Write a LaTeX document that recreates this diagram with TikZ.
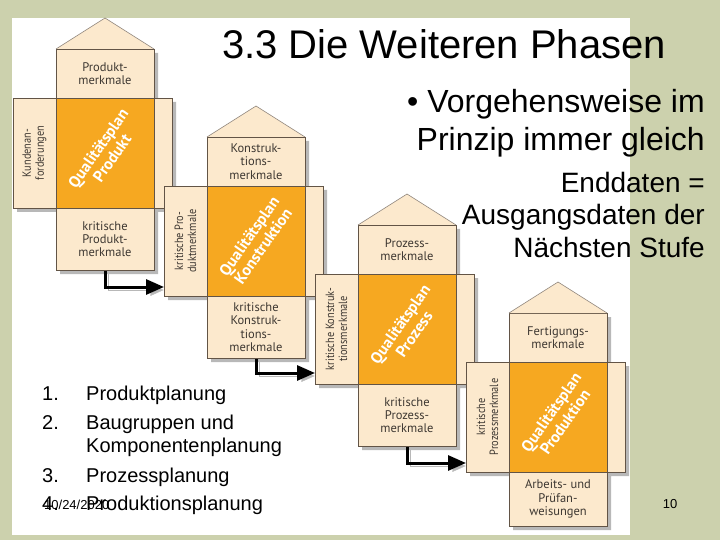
\documentclass[tikz,border=0pt]{standalone}
\usepackage{fontspec}
\setmainfont{Liberation Sans}
\newfontfamily\boxfont{PT Sans}
\newfontfamily\schmalfont[FakeStretch=0.86]{PT Sans}
\usetikzlibrary{positioning,backgrounds,arrows.meta}

\definecolor{folie}{RGB}{204,209,173}
\definecolor{hell}{RGB}{252,233,205}
\definecolor{planfarbe}{RGB}{246,168,33}
\definecolor{kante}{RGB}{98,84,70}
\definecolor{schrift}{RGB}{62,56,50}

\tikzset{
  feld/.style={draw=kante, line width=0.8pt, fill=hell, inner sep=0pt, outer sep=0pt,
    align=center, text=schrift, font=\boxfont\fontsize{12.5}{13.3}\selectfont},
  kopf/.style={feld, minimum width=98pt, minimum height=49pt},
  fuss/.style={feld, minimum width=98pt, minimum height=62pt},
  kern/.style={feld, fill=planfarbe, minimum width=98pt, minimum height=110pt},
  fluegel/.style={feld, rotate=90, anchor=south, minimum width=110pt, minimum height=43pt,
    font=\schmalfont\fontsize{12}{13}\selectfont},
  seite/.style={feld, minimum width=18pt, minimum height=110pt},
  plantext/.style={rotate=55, align=center, text=white, inner sep=0pt,
    font=\boxfont\bfseries\fontsize{16}{17}\selectfont},
  dach/.style={draw=kante!70, line width=0.6pt, fill=hell},
  schatten/.style={fill=black!28, transform canvas={shift={(4pt,-4pt)}}},
  fluss/.style={->, line width=3pt, preaction={draw=black!28, transform canvas={shift={(3pt,-3pt)}}}},
  folientext/.style={inner sep=0pt}
}

\begin{document}
\begin{tikzpicture}[x=1pt, y=-1pt, >={Triangle[length=18pt,width=15pt]}, node distance=0pt]
    \useasboundingbox (0,0) rectangle (720,540);

    % Produkt
    \node[kopf]                 (kopf1) at (105,73.5)   {Produkt-\\merkmale};
    \node[kern]                 (kern1) [below=of kopf1] {};
    \node[fuss]                 (fuss1) [below=of kern1] {kritische\\Produkt-\\merkmale};
    \node[seite]                (rw1)   [right=of kern1] {};
    \node[fluegel]              (fl1)   at (kern1.west)  {Kundenan-\\forderungen};
    \node[plantext]             (qp1)   at (kern1)       {Qualitätsplan\\Produkt};
    \draw[dach] (kopf1.north west) -- ++(49,-31) -- (kopf1.north east);

    % Konstruktion
    \node[kopf]                 (kopf2) at (256,161.5)  {Konstruk-\\tions-\\merkmale};
    \node[kern]                 (kern2) [below=of kopf2] {};
    \node[fuss]                 (fuss2) [below=of kern2] {kritische\\Konstruk-\\tions-\\merkmale};
    \node[seite]                (rw2)   [right=of kern2] {};
    \node[fluegel]              (fl2)   at (kern2.west)  {kritische Pro-\\duktmerkmale};
    \node[plantext]             (qp2)   at (kern2)       {Qualitätsplan\\Konstruktion};
    \draw[dach] (kopf2.north west) -- ++(49,-31) -- (kopf2.north east);

    % Prozess
    \node[kopf]                 (kopf3) at (407,249.5)  {Prozess-\\merkmale};
    \node[kern]                 (kern3) [below=of kopf3] {};
    \node[fuss]                 (fuss3) [below=of kern3] {kritische\\Prozess-\\merkmale};
    \node[seite]                (rw3)   [right=of kern3] {};
    \node[fluegel]              (fl3)   at (kern3.west)  {kritische Konstruk-\\tionsmerkmale};
    \node[plantext]             (qp3)   at (kern3)       {Qualitätsplan\\Prozess};
    \draw[dach] (kopf3.north west) -- ++(49,-31) -- (kopf3.north east);

    % Produktion
    \node[kopf]                 (kopf4) at (558,337.5)  {Fertigungs-\\merkmale};
    \node[kern]                 (kern4) [below=of kopf4] {};
    \node[fuss, minimum height=54pt] (fuss4) [below=of kern4] {Arbeits- und\\Prüfan-\\weisungen};
    \node[seite]                (rw4)   [right=of kern4] {};
    \node[fluegel]              (fl4)   at (kern4.west)  {kritische\\Prozessmerkmale};
    \node[plantext]             (qp4)   at (kern4)       {Qualitätsplan\\Produktion};
    \draw[dach] (kopf4.north west) -- ++(49,-31) -- (kopf4.north east);

    % Folientext
    \node[folientext, anchor=base, font=\fontsize{40}{46}\selectfont] (titel) at (444,59) {3.3 Die Weiteren Phasen};
    \node[folientext, anchor=base east, font=\fontsize{32}{38}\selectfont] (punkt1) at (705,113) {• Vorgehensweise im};
    \node[folientext, anchor=base east, font=\fontsize{32}{38}\selectfont] (punkt2) at (705,151) {Prinzip immer gleich};
    \node[folientext, anchor=base east, font=\fontsize{28}{32}\selectfont] (ende1) at (705,193) {Enddaten =};
    \node[folientext, anchor=base east, font=\fontsize{28}{32}\selectfont] (ende2) at (705,225) {Ausgangsdaten der};
    \node[folientext, anchor=base east, font=\fontsize{28}{32}\selectfont] (ende3) at (705,258) {Nächsten Stufe};

    \node[folientext, anchor=base west, font=\fontsize{13}{15}\selectfont] (datum) at (44,509) {10/24/2020};
    \node[folientext, anchor=base, font=\fontsize{13}{15}\selectfont] (seitenzahl) at (670,508) {10};

    \node[folientext, anchor=base west, font=\fontsize{20}{23}\selectfont] (nr1) at (42,400) {1.};
    \node[folientext, anchor=base west, font=\fontsize{20}{23}\selectfont] (nr2) at (42,429) {2.};
    \node[folientext, anchor=base west, font=\fontsize{20}{23}\selectfont] (nr3) at (42,482) {3.};
    \node[folientext, anchor=base west, font=\fontsize{20}{23}\selectfont] (nr4) at (42,510) {4.};
    \node[folientext, anchor=base west, font=\fontsize{20}{23}\selectfont] (ph1) at (86,400) {Produktplanung};
    \node[folientext, anchor=base west, font=\fontsize{20}{23}\selectfont] (ph2) at (86,429) {Baugruppen und};
    \node[folientext, anchor=base west, font=\fontsize{20}{23}\selectfont] (ph2b) at (86,452) {Komponentenplanung};
    \node[folientext, anchor=base west, font=\fontsize{20}{23}\selectfont] (ph3) at (86,482) {Prozessplanung};
    \node[folientext, anchor=base west, font=\fontsize{20}{23}\selectfont] (ph4) at (86,510) {Produktionsplanung};

    \begin{pgfonlayer}{background}
        \fill[folie] (0,0) rectangle (720,540);
        \fill[white] (12,18) rectangle (630,535);
        \fill[schatten] (kopf1.north west) rectangle (fuss1.south east) (fl1.north |- kern1.north) rectangle (rw1.south east);
        \fill[schatten] (kopf2.north west) rectangle (fuss2.south east) (fl2.north |- kern2.north) rectangle (rw2.south east);
        \fill[schatten] (kopf3.north west) rectangle (fuss3.south east) (fl3.north |- kern3.north) rectangle (rw3.south east);
        \fill[schatten] (kopf4.north west) rectangle (fuss4.south east) (fl4.north |- kern4.north) rectangle (rw4.south east);
        \draw[fluss] (fuss1.south) |- ([yshift=9pt]fl2.north west);
        \draw[fluss] (fuss2.south) |- ([yshift=11pt]fl3.north west);
        \draw[fluss] (fuss3.south) |- ([yshift=9pt]fl4.north west);
    \end{pgfonlayer}
\end{tikzpicture}
\end{document}
